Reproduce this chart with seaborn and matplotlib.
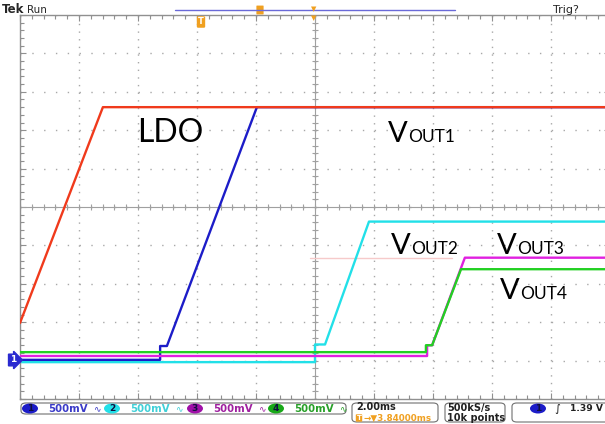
import numpy as np
import pandas as pd
import matplotlib
matplotlib.use("Agg")
import matplotlib.pyplot as plt
import seaborn as sns
from matplotlib.patches import FancyBboxPatch, Ellipse

# time in ms (0 = screen centre), voltage in V (0 = ch1 ground marker)
ldo_t = [-10.0, -7.19, 10.0]
ldo_v = [0.48, 3.29, 3.29]
vout1_t = [-10.0, -5.25, -5.25, -5.02, -1.97, 10.0]
vout1_v = [0.0, 0.0, 0.18, 0.18, 3.29, 3.29]
vout2_t = [-10.0, 0.0, 0.0, 0.34, 1.83, 10.0]
vout2_v = [-0.03, -0.03, 0.20, 0.20, 1.80, 1.80]
vout3_t = [-10.0, 3.80, 3.80, 3.97, 5.08, 10.0]
vout3_v = [0.05, 0.05, 0.19, 0.19, 1.33, 1.33]
vout4_t = [-10.0, 3.76, 3.76, 3.97, 4.95, 10.0]
vout4_v = [0.10, 0.10, 0.19, 0.19, 1.18, 1.18]
ref_t = [-0.17, 4.64]
ref_v = [1.33, 1.33]

ch_labels = ["1", "2", "3", "4"]
ch_scale = ["500mV", "500mV", "500mV", "500mV"]

W, H = 605, 424
y0 = -0.51  # bottom of screen in volts

sns.set_style("white")
fig = plt.figure(figsize=(W / 100, H / 100), dpi=100)
ax = fig.add_axes([20 / W, 1 - 399 / H, 590 / W, (399 - 15) / H])

def fx(px):
    return px / W

def fy(py):
    return 1 - py / H

# traces
traces = [
    (vout2_t, vout2_v, "#22e0e8", 2),
    (vout1_t, vout1_v, "#1c1cc8", 3),
    (vout3_t, vout3_v, "#e020e0", 4),
    (vout4_t, vout4_v, "#22d022", 5),
    (ldo_t, ldo_v, "#f03a1c", 6),
]
ax.plot(ref_t, ref_v, color="#f6caca", lw=1, zorder=1.5)
for t, v, c, z in traces:
    df = pd.DataFrame({"t": t, "v": v})
    sns.lineplot(data=df, x="t", y="v", ax=ax, color=c, lw=1.7,
                 sort=False, estimator=None, zorder=z)

# graticule
ax.set_xlim(-10, 10)
ax.set_ylim(y0, y0 + 5)
ax.set_xticks(np.arange(-10, 10.1, 2))
ax.set_xticks(np.arange(-10, 10.1, 0.4), minor=True)
ax.set_yticks(y0 + np.arange(0, 5.01, 0.5))
ax.set_yticks(y0 + np.arange(0, 5.01, 0.1), minor=True)
ax.tick_params(which="both", direction="in", top=True, right=True, left=True,
               bottom=True, labelbottom=False, labelleft=False, color="#909090")
ax.tick_params(which="major", length=4, width=0.8)
ax.tick_params(which="minor", length=3, width=0.8)
ax.xaxis.grid(True, color="#a8a8a8", lw=1, linestyle=(0, (1, 4.5)))
ax.yaxis.grid(True, color="#a8a8a8", lw=1, linestyle=(0, (1, 7.5)))
ax.set_xlabel("")
ax.set_ylabel("")
for s in ax.spines.values():
    s.set_color("#909090")
    s.set_linewidth(1)
yc = y0 + 2.5
ax.axhline(yc, color="#a0a0a0", lw=0.8, zorder=1)
ax.axvline(0, color="#a0a0a0", lw=0.8, zorder=1)
ax.plot(np.arange(-10, 10.1, 0.4), [yc] * len(np.arange(-10, 10.1, 0.4)),
        ls="none", marker="|", ms=5, mew=0.8, color="#a0a0a0", zorder=1)
ax.plot([0] * len(np.arange(0, 5.01, 0.1)), y0 + np.arange(0, 5.01, 0.1),
        ls="none", marker="_", ms=5, mew=0.8, color="#a0a0a0", zorder=1)

# annotations
lab = dict(family="Lato", color="black", va="baseline", zorder=10)
ax.text(-6.03, 2.83, "LDO", fontsize=23, **lab)
for t, v, sub in [(2.47, 2.83, "OUT1"), (2.58, 1.38, "OUT2"),
                  (6.17, 1.38, "OUT3"), (6.27, 0.79, "OUT4")]:
    ax.text(t, v, "V", fontsize=21, **lab)
    ax.annotate(sub, xy=(t, v), xytext=(14.5, 0), textcoords="offset points",
                fontsize=12.5, **lab)

# top status bar
fig.text(fx(2), fy(13), "Tek", fontsize=8.5, weight="bold", va="baseline")
fig.text(fx(27), fy(13), "Run", fontsize=7.5, va="baseline")
fig.text(fx(553), fy(13), "Trig?", fontsize=8, va="baseline")
fig.add_artist(plt.Line2D([fx(175), fx(455)], [fy(10), fy(10)],
                          color="#6a6ad8", lw=1))
fig.add_artist(FancyBboxPatch((fx(257), fy(14)), 6 / W, 8 / H,
                              boxstyle="round,pad=0.001", fc="#f0a020", ec="none"))
fig.text(fx(314), fy(9), "▼", fontsize=5, color="#f0a020", ha="center", va="center")
fig.text(fx(314), fy(18), "▼", fontsize=5, color="#f0a020", ha="center", va="center")
fig.text(fx(201), fy(22), "T", fontsize=6, color="white", weight="bold",
         ha="center", va="center",
         bbox=dict(boxstyle="round,pad=0.15", fc="#f0a020", ec="none"))

# ground marker ch1
fig.text(fx(13), fy(360), "1", fontsize=6.5, color="white", weight="bold",
         ha="center", va="center",
         bbox=dict(boxstyle="rarrow,pad=0.15", fc="#2a2ad0", ec="#2a2ad0"))

# bottom readout
def box(x1, x2, y1, y2):
    fig.add_artist(FancyBboxPatch((fx(x1), fy(y2)), (x2 - x1) / W, (y2 - y1) / H,
                                  boxstyle="round,pad=0,rounding_size=0.008",
                                  fc="white", ec="#707070", lw=0.8))

box(21, 346, 403, 414)
box(352, 438, 403, 422)
box(445, 505, 403, 422)
box(512, 640, 403, 422)

ch_fill = ["#1c1cc8", "#22e0e8", "#a010a8", "#18a818"]
ch_text = ["#3a3ac8", "#40d0d8", "#a020a0", "#28a028"]
ch_x = [30, 112, 195, 276]
for lbl, sc, fc, tc, x in zip(ch_labels, ch_scale, ch_fill, ch_text, ch_x):
    fig.add_artist(Ellipse((fx(x), fy(408.5)), 16 / W, 10 / H, fc=fc, ec="none"))
    fig.text(fx(x), fy(408.5), lbl, fontsize=6.5, weight="bold", color="#101040",
             ha="center", va="center")
    fig.text(fx(x + 18), fy(408.5), sc, fontsize=7.3, weight="bold", color=tc,
             va="center")
    fig.text(fx(x + 63), fy(408.5), "∿", fontsize=6.5, color=tc, va="center")

fig.text(fx(356), fy(407.5), "2.00ms", fontsize=7, weight="bold", color="#202020",
         va="center")
fig.text(fx(359), fy(418), "T", fontsize=5, weight="bold", color="white",
         ha="center", va="center",
         bbox=dict(boxstyle="round,pad=0.1", fc="#f0a020", ec="none"))
fig.text(fx(363), fy(418), "→▼3.84000ms", fontsize=6.3, weight="bold",
         color="#f0a020", va="center")
fig.text(fx(447), fy(407.5), "500kS/s", fontsize=7, weight="bold", color="#202020",
         va="center")
fig.text(fx(447), fy(418), "10k points", fontsize=7, weight="bold", color="#202020",
         va="center")
fig.add_artist(Ellipse((fx(538), fy(408.5)), 16 / W, 10 / H, fc="#1c1cc8", ec="none"))
fig.text(fx(538), fy(408.5), "1", fontsize=6.5, weight="bold", color="#101040",
         ha="center", va="center")
fig.text(fx(554), fy(408.5), "∫", fontsize=8, color="#202020", va="center")
fig.text(fx(570), fy(408.5), "1.39 V", fontsize=6.6, weight="bold", color="#202020",
         va="center")

fig.savefig("out.png", dpi=100, facecolor="white")
